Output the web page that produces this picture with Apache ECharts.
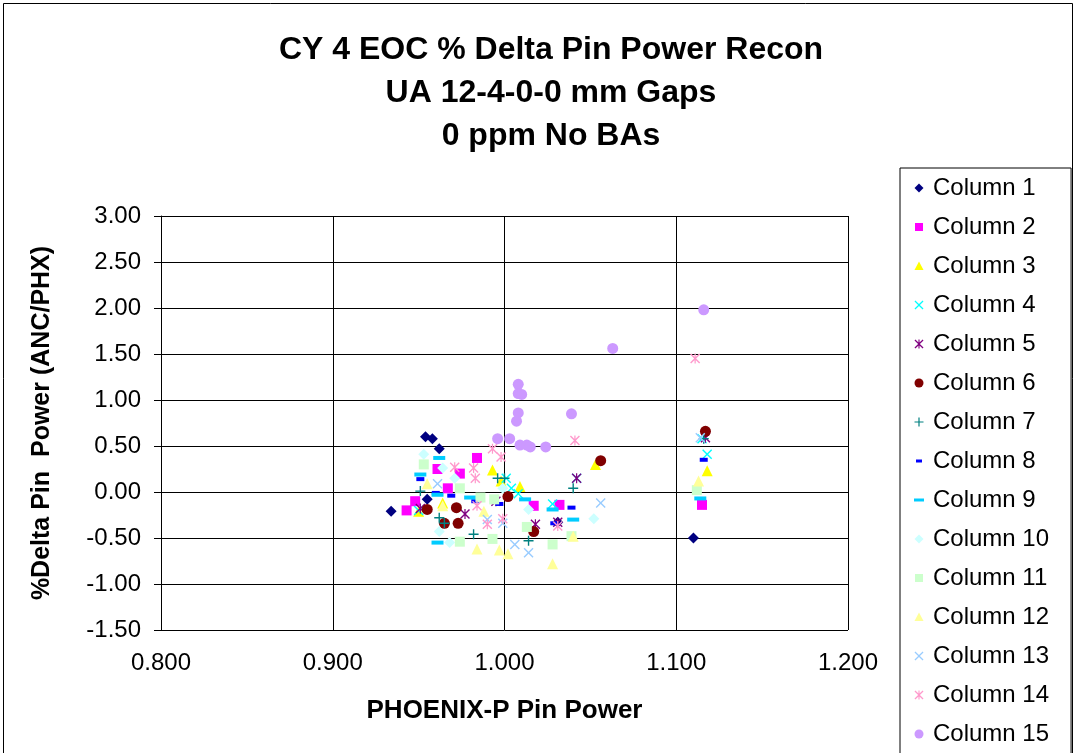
<!DOCTYPE html>
<html>
<head>
<meta charset="utf-8">
<script src="https://cdn.jsdelivr.net/npm/echarts@6/dist/echarts.min.js"></script>
<style>
  html, body { margin: 0; padding: 0; background: #fff; }
  #chart { width: 1076px; height: 753px; }
</style>
</head>
<body>
<div id="chart"></div>
<script>
// [PHOENIX-P pin power, % delta pin power] per column
let col1 = [[0.934, -0.21], [0.954, 0.60], [0.958, 0.58], [0.962, 0.47], [0.955, -0.08], [1.031, -0.33], [1.110, -0.50]];
let col2 = [[0.943, -0.20], [0.948, -0.10], [0.961, 0.25], [0.967, 0.04], [0.974, 0.20], [0.984, 0.37], [1.017, -0.15], [1.032, -0.14], [1.115, -0.14]];
let col3 = [[0.950, -0.21], [0.964, -0.12], [0.993, 0.24], [1.009, 0.06], [0.998, 0.12], [1.053, 0.30], [1.118, 0.23]];
let col4 = [[0.950, -0.20], [1.001, 0.15], [1.004, 0.04], [1.008, -0.02], [1.028, -0.13], [1.042, 0.15], [1.118, 0.41], [1.115, 0.58]];
let col5 = [[0.951, -0.18], [0.977, -0.24], [0.995, -0.10], [1.018, -0.35], [1.031, -0.33], [1.042, 0.15], [1.117, 0.59]];
let col6 = [[0.955, -0.19], [0.965, -0.34], [0.972, -0.17], [0.973, -0.34], [1.002, -0.05], [1.017, -0.43], [1.056, 0.34], [1.117, 0.66]];
let col7 = [[0.951, 0.01], [0.962, -0.28], [0.965, -0.34], [0.982, -0.46], [0.996, 0.15], [1.000, 0.15], [1.014, -0.53], [1.040, 0.04], [1.116, 0.58]];
let col8 = [[0.951, 0.14], [0.960, -0.01], [0.969, -0.04], [0.983, -0.10], [0.997, -0.13], [1.029, -0.34], [1.039, -0.17], [1.116, 0.35]];
let col9 = [[0.951, 0.19], [0.961, -0.03], [0.962, 0.37], [0.961, -0.55], [0.980, -0.06], [1.012, -0.08], [1.028, -0.19], [1.040, -0.30], [1.114, -0.07]];
let col10 = [[0.953, 0.41], [0.964, 0.26], [0.971, 0.15], [0.962, -0.43], [0.968, -0.55], [0.999, 0.04], [1.014, -0.19], [1.052, -0.29]];
let col11 = [[0.953, 0.30], [0.974, 0.04], [0.986, -0.06], [0.994, -0.08], [0.974, -0.54], [0.993, -0.51], [1.013, -0.38], [1.028, -0.57], [1.039, -0.48], [1.112, 0.02]];
let col12 = [[0.955, 0.09], [0.964, -0.15], [0.988, -0.21], [0.984, -0.62], [0.997, -0.63], [1.002, -0.67], [1.028, -0.78], [1.040, -0.48], [1.113, 0.12]];
let col13 = [[0.961, 0.09], [0.990, -0.30], [0.999, -0.34], [1.006, -0.57], [1.014, -0.66], [1.056, -0.12], [1.114, 0.59]];
let col14 = [[0.971, 0.27], [0.982, 0.26], [0.983, 0.15], [0.993, 0.47], [0.998, 0.38], [0.984, -0.15], [0.990, -0.35], [0.999, -0.29], [1.031, -0.37], [1.041, 0.56], [1.111, 1.45]];
let col15 = [[1.008, 1.17], [1.008, 1.07], [1.010, 1.06], [1.008, 0.86], [1.007, 0.77], [1.039, 0.85], [0.996, 0.58], [1.003, 0.58], [1.009, 0.51], [1.013, 0.51], [1.015, 0.49], [1.024, 0.49], [1.063, 1.56], [1.116, 1.98]];

let names = ['Column 1', 'Column 2', 'Column 3', 'Column 4', 'Column 5', 'Column 6', 'Column 7', 'Column 8',
             'Column 9', 'Column 10', 'Column 11', 'Column 12', 'Column 13', 'Column 14', 'Column 15'];
let columns = [col1, col2, col3, col4, col5, col6, col7, col8, col9, col10, col11, col12, col13, col14, col15];

let colors = ['#000080', '#FF00FF', '#FFFF00', '#00FFFF', '#800080', '#800000', '#008080', '#0000FF',
              '#00CCFF', '#CCFFFF', '#CCFFCC', '#FFFF99', '#99CCFF', '#FF99CC', '#CC99FF'];

// marker shapes for the plot
let xMark = 'path://M0,1L1,0L5,4L9,0L10,1L6,5L10,9L9,10L5,6L1,10L0,9L4,5Z';
let starMark = 'path://M0,1L1,0L5,4L9,0L10,1L6,5L10,9L9,10L5,6L1,10L0,9L4,5Z M4.4,0H5.6V10H4.4Z';
let plusMark = 'path://M4.3,0H5.7V4.3H10V5.7H5.7V10H4.3V5.7H0V4.3H4.3Z';

let symbols = ['diamond', 'rect', 'triangle', xMark, starMark, 'circle', plusMark, 'rect',
               'rect', 'diamond', 'rect', 'triangle', xMark, starMark, 'circle'];
let sizes = [11, 10, 11, 10, 10, 11, 10, [8, 4], [12, 4], 11, 10, 11, 10, 10, 11];

// legend icons drawn in a 16x12 box (M0,0M16,12 keeps the box size)
let box = 'path://M0,0M16,12';
let iDiamond = box + 'M7,1.5L11.5,6L7,10.5L2.5,6Z';
let iSquare = box + 'M3,2H11V10H3Z';
let iTriangle = box + 'M7,1.5L11.5,10H2.5Z';
let iX = box + 'M2.5,2.4L3.4,1.5L7,5.1L10.6,1.5L11.5,2.4L7.9,6L11.5,9.6L10.6,10.5L7,6.9L3.4,10.5L2.5,9.6L6.1,6Z';
let iStar = iX + 'M6.45,1.5H7.55V10.5H6.45Z';
let iCircle = box + 'M2.5,6A4.5,4.5 0 1 1 11.5,6A4.5,4.5 0 1 1 2.5,6Z';
let iPlus = box + 'M6.4,1.5H7.6V5.4H11.5V6.6H7.6V10.5H6.4V6.6H2.5V5.4H6.4Z';
let iDash = box + 'M4,4.5H10V7.5H4Z';
let iDashWide = box + 'M2,4.5H12V7.5H2Z';
let legendIcons = [iDiamond, iSquare, iTriangle, iX, iStar, iCircle, iPlus, iDash,
                   iDashWide, iDiamond, iSquare, iTriangle, iX, iStar, iCircle];

let font = 'Liberation Sans, Arial, sans-serif';

function drawScatter() {
    let my_chart = echarts.init(document.getElementById('chart'));

    let series_data = columns.map(function (data, i) {
        return {
            name: names[i],
            type: 'scatter',
            data: data,
            symbol: symbols[i],
            symbolSize: sizes[i],
            itemStyle: { color: colors[i], opacity: 1 }
        };
    });

    let legend_data = names.map(function (n, i) {
        return { name: n, icon: legendIcons[i] };
    });

    let option = {
        animation: false,
        backgroundColor: '#fff',
        title: {
            text: 'CY 4 EOC % Delta Pin Power Recon\nUA 12-4-0-0 mm Gaps\n0 ppm No BAs',
            left: 546,
            top: 24,
            textAlign: 'center',
            textStyle: {
                fontFamily: font,
                fontSize: 32,
                fontWeight: 'bold',
                lineHeight: 43,
                color: '#000'
            }
        },
        legend: {
            orient: 'vertical',
            left: 900,
            top: 168,
            height: 720,
            padding: [8, 22, 10, 12],
            itemWidth: 16,
            itemHeight: 12,
            itemGap: 15,
            borderColor: '#000',
            borderWidth: 1,
            data: legend_data,
            textStyle: { fontFamily: font, fontSize: 24, color: '#000' }
        },
        grid: {
            left: 161,
            right: 228,
            top: 216,
            bottom: 123
        },
        xAxis: {
            type: 'value',
            min: 0.8,
            max: 1.2,
            interval: 0.1,
            name: 'PHOENIX-P Pin Power',
            nameLocation: 'middle',
            nameGap: 68,
            nameTextStyle: { fontFamily: font, fontSize: 26, fontWeight: 'bold', color: '#000' },
            axisLine: { show: true, lineStyle: { color: '#000', width: 1 } },
            axisTick: { show: true, length: 5, lineStyle: { color: '#000' } },
            axisLabel: {
                fontFamily: font, fontSize: 24, color: '#000', margin: 21,
                formatter: function (v) { return v.toFixed(3); }
            },
            splitLine: { show: true, lineStyle: { color: '#000', width: 1 } }
        },
        yAxis: {
            type: 'value',
            min: -1.5,
            max: 3,
            interval: 0.5,
            name: '%Delta Pin  Power (ANC/PHX)',
            nameLocation: 'middle',
            nameGap: 106,
            nameTextStyle: { fontFamily: font, fontSize: 25, fontWeight: 'bold', color: '#000' },
            axisLine: { show: true, lineStyle: { color: '#000', width: 1 } },
            axisTick: { show: true, length: 7, lineStyle: { color: '#000' } },
            axisLabel: {
                fontFamily: font, fontSize: 24, color: '#000', margin: 20,
                formatter: function (v) { return v.toFixed(2); }
            },
            splitLine: { show: true, lineStyle: { color: '#000', width: 1 } }
        },
        graphic: [
            {
                type: 'rect',
                shape: { x: 3.5, y: 3.5, width: 1069, height: 800 },
                style: { fill: 'none', stroke: '#000', lineWidth: 1 },
                silent: true
            }
        ],
        series: series_data
    };

    my_chart.setOption(option);
}

drawScatter();
</script>
</body>
</html>
